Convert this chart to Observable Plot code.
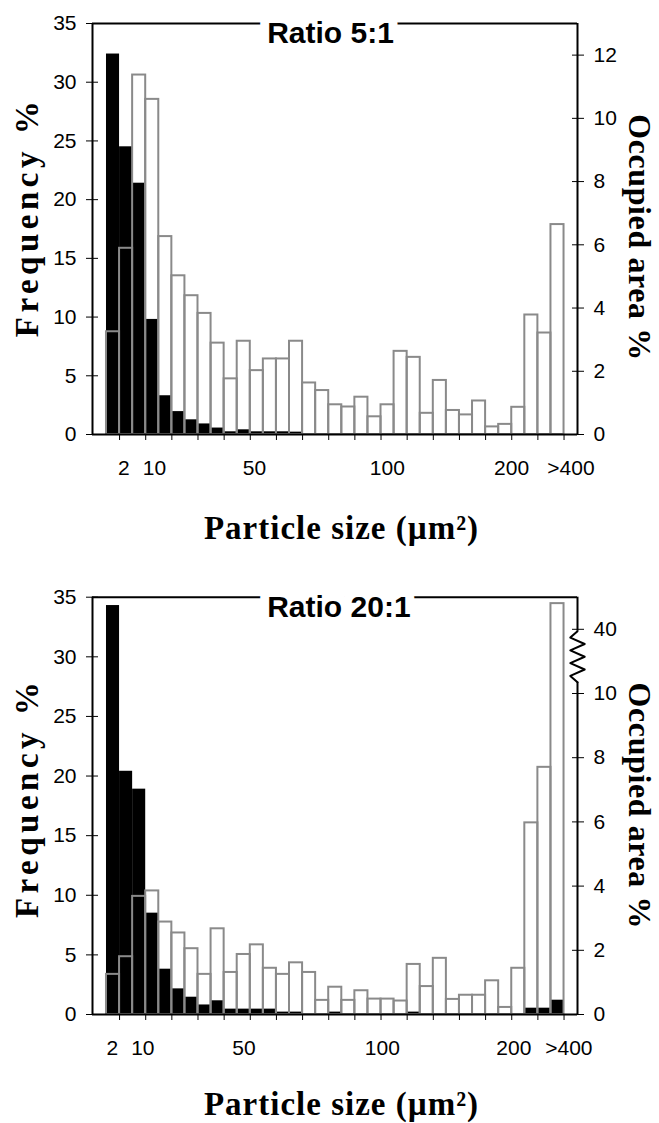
<!DOCTYPE html>
<html><head><meta charset="utf-8">
<script src="https://cdn.jsdelivr.net/npm/d3@7"></script>
<script src="https://cdn.jsdelivr.net/npm/@observablehq/plot@0.6"></script>
<style>
body{margin:0;background:#fff;}
#chart svg{display:block;}
</style>
</head><body><div id="chart"></div>
<script>
// 35 particle-size classes (index 0..34)
const sizeClasses = d3.range(35);
const xTickLabels = ["2", "10", "50", "100", "200", ">400"];
// tick-label positions in size-class units, per panel
const xTickPos5 = [1.32, 3.67, 11.32, 21.48, 30.99, 35.53];
const xTickPos20 = [0.44, 2.78, 10.51, 21.1, 31.16, 35.37];
const freqTicks = [0, 5, 10, 15, 20, 25, 30, 35];
const areaTicks5 = [0, 2, 4, 6, 8, 10, 12];
const areaTicks20 = [0, 2, 4, 6, 8, 10, 40];

const freq5 = [32.4, 24.5, 21.4, 9.8, 3.3, 1.95, 1.25, 0.9, 0.55, 0.23, 0.4, 0.23, 0.23, 0.23, 0.2,
  0, 0, 0, 0, 0, 0, 0, 0, 0, 0, 0, 0, 0, 0, 0, 0, 0, 0, 0, 0];
const area5 = [3.25, 5.89, 11.37, 10.6, 6.26, 5.02, 4.39, 3.83, 2.89, 1.76, 2.95, 2.02, 2.39, 2.39, 2.95,
  1.63, 1.39, 0.94, 0.87, 1.18, 0.56, 0.94, 2.63, 2.44, 0.67, 1.71, 0.76, 0.62, 1.06, 0.24,
  0.32, 0.86, 3.78, 3.21, 6.64];
const freq20 = [34.3, 20.4, 18.9, 8.5, 3.8, 2.15, 1.45, 0.8, 1.15, 0.45, 0.45, 0.45, 0.45, 0.2, 0.2,
  0, 0, 0.2, 0, 0, 0, 0, 0, 0.2, 0, 0, 0, 0, 0, 0, 0, 0, 0.53, 0.53, 1.2];
const area20 = [1.25, 1.8, 3.68, 3.85, 2.88, 2.54, 2.05, 1.25, 2.67, 1.31, 1.87, 2.17, 1.44, 1.25, 1.61,
  1.31, 0.44, 0.85, 0.44, 0.74, 0.48, 0.48, 0.42, 1.56, 0.87, 1.75, 0.47, 0.6, 0.6, 1.05,
  0.22, 1.44, 5.97, 7.7, 40.8];

const FMAX = 35, AMAX = 13;
const K = FMAX / AMAX;
const X0 = -1.07, X1 = 36.03;
const GRAY = "#8a8a8a";
const SERIF = "'Liberation Serif', 'Times New Roman', serif";
const Y_TITLE = "Frequency %", Y2_TITLE = "Occupied area %", X_TITLE = "Particle size (µm²)";

function panel(o) {
  const disp = o.breakAxis ? (v => v <= 10 ? v : v - 28) : (v => v);
  const rows = sizeClasses.map(i => ({i, freq: o.freq[i], area: o.area[i]}));
  const rightPos = o.areaTicks.map(t => disp(t) * K);
  const rightLab = new Map(rightPos.map((p, j) => [p, String(o.areaTicks[j])]));
  const rightSegs = o.breakAxis
    ? [{a: 0, b: 10.35 * K}, {a: 11.94 * K, b: FMAX}]
    : [{a: 0, b: FMAX}];
  const zig = [];
  if (o.breakAxis) {
    const n = 8, lo = 10.35, hi = 11.94;
    for (let j = 0; j <= n; j++) {
      zig.push({x: j === 0 || j === n ? X1 : X1 + (j % 2 ? -0.55 : 0.55), y: (hi - (hi - lo) * j / n) * K});
    }
  }
  const plot = Plot.plot({
    width: 659,
    height: o.height,
    marginLeft: 92,
    marginRight: 82,
    marginTop: o.marginTop,
    marginBottom: o.marginBottom,
    x: {domain: [X0, X1], axis: null},
    y: {domain: [0, FMAX], axis: null},
    style: {fontFamily: "'Liberation Sans', Arial, sans-serif", fontSize: "21px", background: "white", color: "black", overflow: "visible"},
    marks: [
      Plot.rectY(rows, {x1: "i", x2: d => d.i + 1, y: "freq", fill: "black"}),
      Plot.rectY(rows, {x1: "i", x2: d => d.i + 1, y: d => disp(d.area) * K, fill: "none", stroke: GRAY, strokeWidth: 2}),
      Plot.ruleY([0], {strokeWidth: 2}),
      Plot.ruleY([FMAX], {strokeWidth: 2}),
      Plot.ruleX([X0], {strokeWidth: 2}),
      Plot.ruleX(rightSegs, {x: () => X1, y1: "a", y2: "b", strokeWidth: 2}),
      ...(o.breakAxis ? [Plot.line(zig, {x: "x", y: "y", strokeWidth: 2})] : []),
      // left axis: crossing ticks + labels
      Plot.axisY({anchor: "left", ticks: freqTicks, tickSize: 12, dx: 6, tickFormat: () => "", label: null}),
      Plot.axisY({anchor: "left", ticks: freqTicks, tickSize: 0, tickPadding: 16, label: null, fontSize: 21}),
      // right axis: crossing ticks + labels
      Plot.axisY({anchor: "right", ticks: rightPos, tickSize: 12, dx: -6, tickFormat: () => "", label: null}),
      Plot.axisY({anchor: "right", ticks: rightPos, tickSize: 0, tickPadding: 16, tickFormat: d => rightLab.get(d), label: null, fontSize: 21}),
      // x axis ticks
      Plot.axisX({ticks: d3.range(1, 36, 2), tickSize: 6, tickFormat: () => "", label: null}),
      Plot.text(xTickLabels, {x: (d, j) => o.xTickPos[j], frameAnchor: "bottom", dy: 40, lineAnchor: "bottom", fontSize: 21}),
      // panel title over the top border
      Plot.text([o.title], {frameAnchor: "top-left", dx: 174.7, dy: 19.7, textAnchor: "start", lineAnchor: "bottom",
        fontSize: 30, fontWeight: "bold", fill: "black", stroke: "white", strokeWidth: 18, strokeLinejoin: "round"}),
      // axis titles
      Plot.text([Y_TITLE], {frameAnchor: "left", rotate: -90, dx: -64.6, dy: o.fdy, textAnchor: "middle", lineAnchor: "middle",
        fontFamily: SERIF, fontWeight: "bold", fontSize: 33}),
      Plot.text([Y2_TITLE], {frameAnchor: "right", rotate: 90, dx: 62, dy: o.ady, textAnchor: "middle", lineAnchor: "middle",
        fontFamily: SERIF, fontWeight: "bold", fontSize: 32}),
      Plot.text([X_TITLE], {frameAnchor: "bottom", dx: 6.5, dy: o.xdy, textAnchor: "middle", lineAnchor: "bottom",
        fontFamily: SERIF, fontWeight: "bold", fontSize: 33})
    ]
  });
  const spacing = new Map([[Y_TITLE, "4.5px"], [Y2_TITLE, "0.6px"], [X_TITLE, "1px"]]);
  plot.querySelectorAll("text").forEach(t => {
    const ls = spacing.get(t.textContent);
    if (ls) t.style.letterSpacing = ls;
  });
  return plot;
}

const chart = document.getElementById("chart");
chart.appendChild(panel({title: "Ratio 5:1", freq: freq5, area: area5, areaTicks: areaTicks5, xTickPos: xTickPos5,
  breakAxis: false, height: 560, marginTop: 23, marginBottom: 126, fdy: -12, ady: 8.5, xdy: 104}));
chart.appendChild(panel({title: "Ratio 20:1", freq: freq20, area: area20, areaTicks: areaTicks20, xTickPos: xTickPos20,
  breakAxis: true, height: 563, marginTop: 36.7, marginBottom: 109, fdy: -8, ady: 0, xdy: 100}));
</script>
</body></html>
